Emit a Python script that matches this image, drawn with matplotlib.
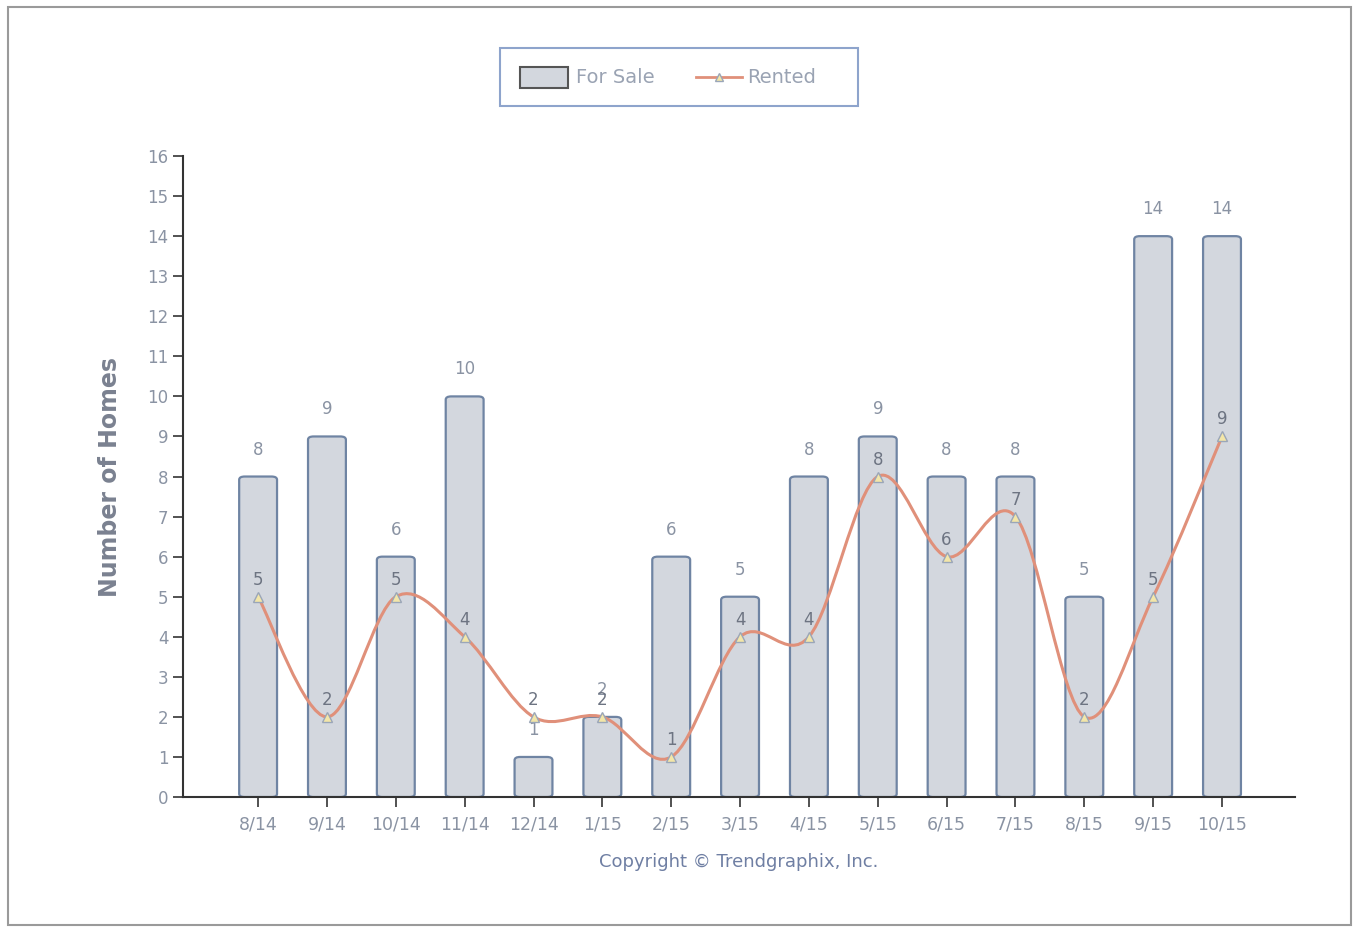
import matplotlib
matplotlib.use("Agg")
import matplotlib.pyplot as plt
from matplotlib.patches import Rectangle, FancyBboxPatch
from matplotlib.path import Path
from matplotlib.patches import PathPatch
import numpy as np

months = ["8/14", "9/14", "10/14", "11/14", "12/14", "1/15", "2/15", "3/15",
          "4/15", "5/15", "6/15", "7/15", "8/15", "9/15", "10/15"]
for_sale = [8, 9, 6, 10, 1, 2, 6, 5, 8, 9, 8, 8, 5, 14, 14]
rented = [5, 2, 5, 4, 2, 2, 1, 4, 4, 8, 6, 7, 2, 5, 9]

TXT = "#8a93a3"
BAR_FILL = "#d3d7de"
BAR_EDGE = "#6f84a3"
LINE = "#e0907a"

fig = plt.figure(figsize=(13.59, 9.31), dpi=100)
fig.patches.append(Rectangle((0.006, 0.006), 0.988, 0.986, transform=fig.transFigure,
                             fill=False, edgecolor="#9a9a9a", lw=1.5))
ax = fig.add_axes([0.1347, 0.1439, 0.8182, 0.6885])

x = np.arange(len(months))
width = 0.55
for xi, v in zip(x, for_sale):
    p = FancyBboxPatch((xi - width / 2, 0), width, v,
                       boxstyle="round,pad=0,rounding_size=0.08",
                       mutation_aspect=1 / 0.6 * 0.6,
                       facecolor=BAR_FILL, edgecolor=BAR_EDGE, lw=1.6)
    ax.add_patch(p)
    ax.text(xi, v + 0.45, str(v), ha="center", va="bottom", fontsize=12, color=TXT)

# smooth curve through the rented points (Catmull-Rom as cubic Bezier segments)
pts = np.column_stack([x, rented]).astype(float)
verts = [tuple(pts[0])]
codes = [Path.MOVETO]
for i in range(len(pts) - 1):
    p0 = pts[i - 1] if i > 0 else pts[i]
    p1, p2 = pts[i], pts[i + 1]
    p3 = pts[i + 2] if i + 2 < len(pts) else pts[i + 1]
    c1 = p1 + (p2 - p0) / 6
    c2 = p2 - (p3 - p1) / 6
    verts += [tuple(c1), tuple(c2), tuple(p2)]
    codes += [Path.CURVE4] * 3
ax.add_patch(PathPatch(Path(verts, codes), fill=False, edgecolor=LINE, lw=2.2, zorder=3))
ax.plot(x, rented, linestyle="none", marker="^", markersize=7,
        markerfacecolor="#f3e6a8", markeredgecolor="#9aa6b8", zorder=4)
for xi, v in zip(x, rented):
    ax.text(xi, v + 0.2, str(v), ha="center", va="bottom", fontsize=12, color="#6d7482", zorder=5)

ax.set_xlim(-1.09, 15.06)
ax.set_ylim(0, 16)
ax.set_yticks(range(0, 17))
ax.set_xticks(x)
ax.set_xticklabels(months)
for s in ["top", "right"]:
    ax.spines[s].set_visible(False)
ax.spines["left"].set_color("#333333")
ax.spines["bottom"].set_color("#333333")
ax.spines["left"].set_linewidth(1.5)
ax.spines["bottom"].set_linewidth(1.5)
ax.tick_params(axis="y", labelsize=12, labelcolor=TXT, color="#333333", length=7, width=1.2)
ax.tick_params(axis="x", labelsize=12.5, labelcolor=TXT, color="#333333", length=7, width=1.2, pad=6)
ax.set_ylabel("Number of Homes", fontsize=17, fontweight="bold", color="#7a8190", labelpad=18)
ax.set_xlabel("Copyright \u00a9 Trendgraphix, Inc.", fontsize=13, color="#6f7fa3", labelpad=14)

# legend box
fig.patches.append(Rectangle((0.368, 0.886), 0.263, 0.062, transform=fig.transFigure,
                             fill=False, edgecolor="#8ea4cc", lw=1.5))
fig.patches.append(Rectangle((0.383, 0.906), 0.035, 0.022, transform=fig.transFigure,
                             facecolor=BAR_FILL, edgecolor="#555555", lw=1.5))
fig.text(0.424, 0.917, "For Sale", fontsize=14, color="#9aa3b3", va="center")
fig.lines.append(plt.Line2D([0.512, 0.546], [0.917, 0.917], transform=fig.transFigure,
                            color=LINE, lw=2, marker="^", markevery=[0, 1], markersize=0))
fig.lines.append(plt.Line2D([0.529], [0.917], transform=fig.transFigure, linestyle="none",
                            marker="^", markersize=6, markerfacecolor="#f3e6a8",
                            markeredgecolor="#9aa6b8"))
fig.text(0.550, 0.917, "Rented", fontsize=14, color="#9aa3b3", va="center")

fig.savefig("out.png", dpi=100)
